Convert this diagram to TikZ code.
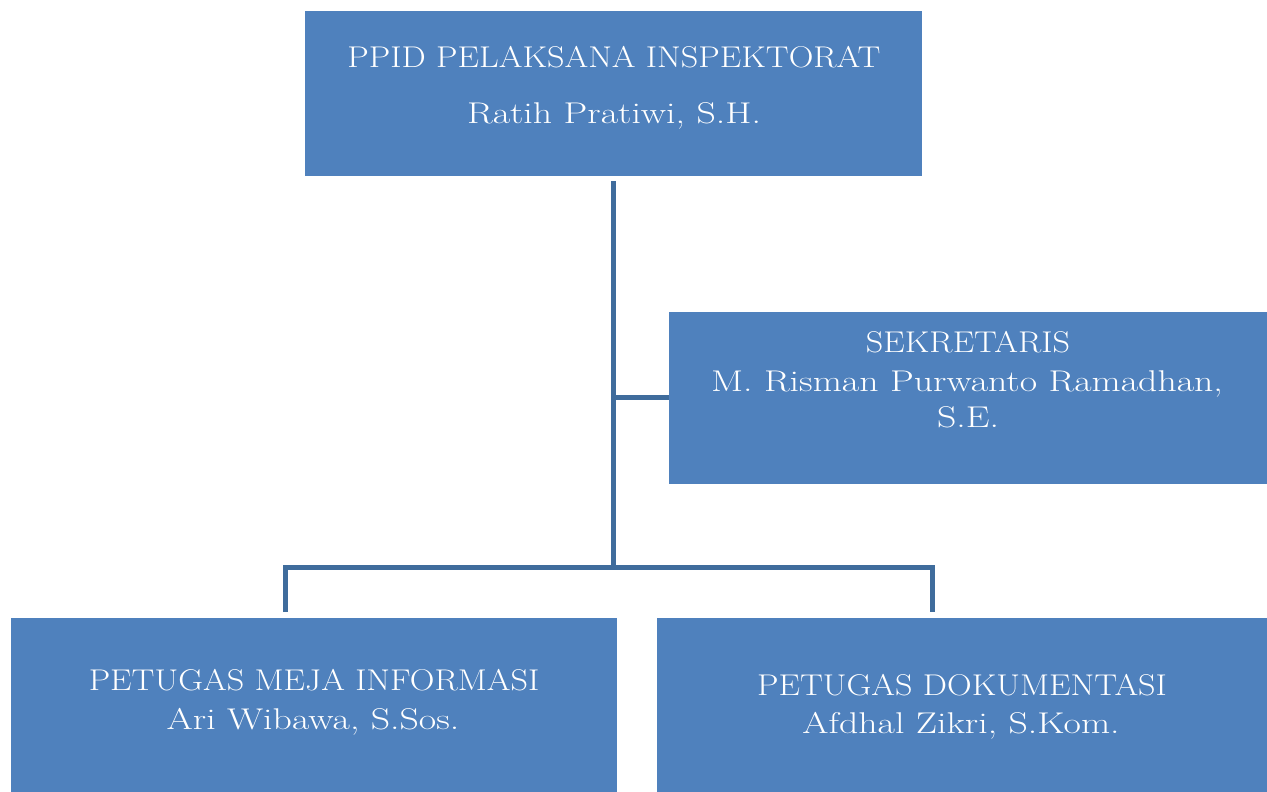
\documentclass[tikz,border=0pt]{standalone}
\usepackage{graphicx}
\definecolor{boxblue}{HTML}{4F81BD}
\definecolor{lineblue}{HTML}{3F6C9C}
\newcommand{\capline}[1]{\scalebox{1.14}[1]{#1}}
\newcommand{\mixline}[1]{\scalebox{1.26}[1]{#1}}
\begin{document}
\begin{tikzpicture}[x=1pt,y=-1pt,
  box/.style={fill=boxblue, draw=none, inner sep=0pt, outer sep=0pt, rectangle},
  txt/.style={text=white, anchor=base, inner sep=0pt, font=\fontsize{30}{36}\selectfont},
  conn/.style={draw=lineblue, line width=5pt}]
\useasboundingbox (0,0) rectangle (1267,792);
% boxes
\node[box, minimum width=617pt, minimum height=165pt] (top) at (613.5,93.5) {};
\node[box, minimum width=598pt, minimum height=172pt] (sek) at (968,398) {};
\node[box, minimum width=606pt, minimum height=174pt] (bl) at (314,705) {};
\node[box, minimum width=610pt, minimum height=174pt] (br) at (962,705) {};
% texts
\node[txt] (t1) at (614,68) {\capline{PPID PELAKSANA INSPEKTORAT}};
\node[txt] (t2) at (614,124) {\mixline{Ratih Pratiwi, S.H.}};
\node[txt] (s1) at (968,352) {\capline{SEKRETARIS}};
\node[txt] (s2) at (967,391) {\mixline{M. Risman Purwanto Ramadhan,}};
\node[txt] (s3) at (968,427) {\mixline{S.E.}};
\node[txt] (l1) at (314,690) {\capline{PETUGAS MEJA INFORMASI}};
\node[txt] (l2) at (313,729) {\mixline{Ari Wibawa, S.Sos.}};
\node[txt] (r1) at (962,695) {\capline{PETUGAS DOKUMENTASI}};
\node[txt] (r2) at (961,733) {\mixline{Afdhal Zikri, S.Kom.}};
% connector points
\coordinate (vtop) at (613,181);
\coordinate (vmid) at (613,397);
\coordinate (vbot) at (613,567);
\coordinate (hl) at (285,567);
\coordinate (hr) at (932,567);
\coordinate (dl) at (285,612);
\coordinate (dr) at (932,612);
% connectors
\draw[conn] (vtop) -- (vbot);
\draw[conn] (vmid) -- (vmid -| sek.west);
\draw[conn] (dl) -- (hl) -- (hr) -- (dr);
\end{tikzpicture}
\end{document}
